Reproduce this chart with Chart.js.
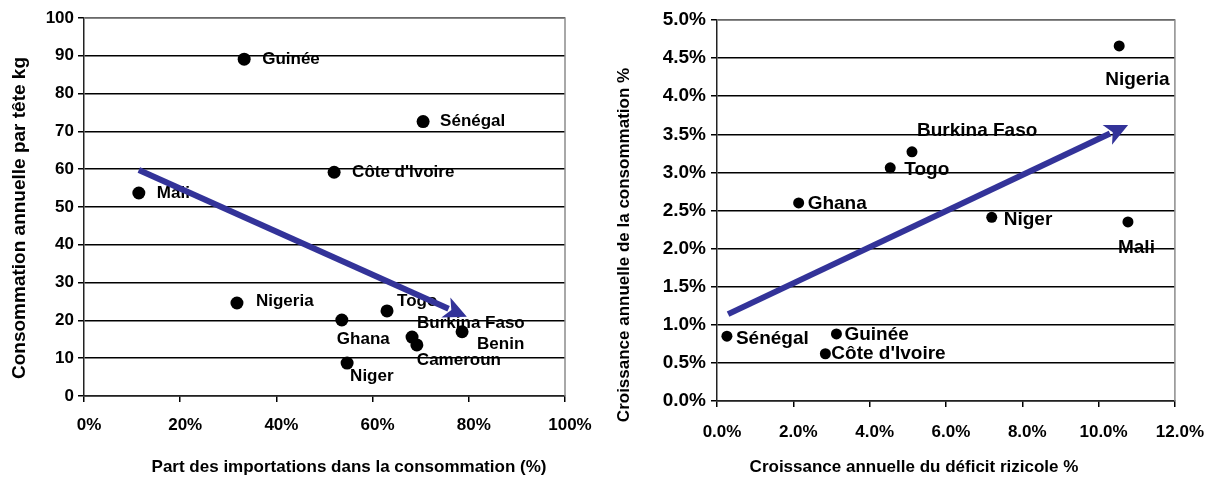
<!DOCTYPE html>
<html>
<head>
<meta charset="utf-8">
<script src="https://cdn.jsdelivr.net/npm/chart.js@4"></script>
<style>
  body { margin: 0; background: #fff; }
  .box { position: absolute; top: 0; height: 479px; }
  #left { left: 0; width: 600px; }
  #right { left: 600px; width: 614px; }
</style>
</head>
<body>
<div class="box" id="left"><canvas id="chartLeft"></canvas></div>
<div class="box" id="right"><canvas id="chartRight"></canvas></div>
<script>
// left chart : part des importations vs consommation par tete
const leftNames = ["Guinée", "Sénégal", "Côte d'Ivoire", "Mali", "Nigeria", "Togo", "Ghana", "Niger", "Burkina Faso", "Cameroun", "Benin"];
const leftImports = [33.3, 70.5, 52.0, 11.4, 31.8, 63.0, 53.6, 54.7, 68.2, 69.2, 78.6];
const leftConso = [89.1, 72.6, 59.2, 53.7, 24.6, 22.5, 20.1, 8.7, 15.6, 13.5, 17.0];
const leftTrendX = [11.4, 75.8];
const leftTrendY = [59.8, 23.1];
const leftXTicks = [0, 20, 40, 60, 80, 100];
const leftYTicks = [0, 10, 20, 30, 40, 50, 60, 70, 80, 90, 100];

// right chart : croissance du deficit vs croissance de la consommation
const rightNames = ["Nigeria", "Burkina Faso", "Togo", "Ghana", "Niger", "Mali", "Sénégal", "Guinée", "Côte d'Ivoire"];
const rightDeficit = [10.54, 5.11, 4.54, 2.14, 7.20, 10.77, 0.26, 3.13, 2.84];
const rightGrowth = [4.66, 3.27, 3.06, 2.60, 2.41, 2.35, 0.85, 0.88, 0.62];
const rightTrendX = [0.29, 10.30];
const rightTrendY = [1.14, 3.51];
const rightXTicks = [0, 2, 4, 6, 8, 10, 12];
const rightYTicks = [0, 0.5, 1, 1.5, 2, 2.5, 3, 3.5, 4, 4.5, 5];

// label offsets from the dot, in px
const leftLabelPos = [[18, 0], [17, 0], [18, 0], [18, 0], [19, -2], [10, -10], [-5, 19], [3, 13], [5, -14], [0, 15], [15, 13]];
const rightLabelPos = [[-14, 34], [5, -21], [14, 2], [9, 1], [12, 2], [-10, 26], [9, 3], [8, 1], [6, 0]];

const FONT = "'Liberation Sans', Arial, sans-serif";
const bold = size => ({ family: FONT, size: size, weight: 'bold' });

const framePlugin = {
    id: 'frame',
    beforeDatasetsDraw(chart) {
        const { ctx, chartArea: a } = chart;
        ctx.save();
        ctx.strokeStyle = '#8c8c8c';
        ctx.lineWidth = 1.5;
        ctx.beginPath();
        ctx.moveTo(a.left, a.top);
        ctx.lineTo(a.right, a.top);
        ctx.lineTo(a.right, a.bottom);
        ctx.stroke();
        ctx.restore();
    }
};

function labelPlugin(names, pos, size) {
    return {
        id: 'names',
        beforeDatasetsDraw(chart) {
            const ctx = chart.ctx;
            ctx.save();
            ctx.font = "bold " + size + "px " + FONT;
            ctx.fillStyle = '#000';
            ctx.textAlign = 'left';
            ctx.textBaseline = 'middle';
            chart.getDatasetMeta(0).data.forEach((pt, i) => {
                ctx.fillText(names[i], pt.x + pos[i][0], pt.y + pos[i][1]);
            });
            ctx.restore();
        }
    };
}

// axis titles, placed like the original (not centred on the plot)
function titlePlugin(t) {
    return {
        id: 'titles',
        afterDraw(chart) {
            const ctx = chart.ctx;
            ctx.save();
            ctx.fillStyle = '#000';
            ctx.textAlign = 'center';
            ctx.textBaseline = 'middle';
            ctx.font = "bold 17px " + FONT;
            ctx.fillText(t.x, t.xPos[0], t.xPos[1]);
            ctx.translate(t.yPos[0], t.yPos[1]);
            ctx.rotate(-Math.PI / 2);
            ctx.font = "bold " + t.ySize + "px " + FONT;
            ctx.fillText(t.y, 0, 0);
            ctx.restore();
        }
    };
}

const arrowHead = {
    id: 'arrowHead',
    afterDatasetsDraw(chart) {
        const pts = chart.getDatasetMeta(1).data;
        const a = pts[0], b = pts[pts.length - 1];
        const len = Math.hypot(b.x - a.x, b.y - a.y);
        const ux = (b.x - a.x) / len, uy = (b.y - a.y) / len;
        const nx = -uy, ny = ux;
        const ctx = chart.ctx;
        ctx.save();
        ctx.fillStyle = '#333399';
        ctx.beginPath();
        ctx.moveTo(b.x + 20 * ux, b.y + 20 * uy);
        ctx.lineTo(b.x - 3 * ux + 11 * nx, b.y - 3 * uy + 11 * ny);
        ctx.lineTo(b.x + 3 * ux, b.y + 3 * uy);
        ctx.lineTo(b.x - 3 * ux - 11 * nx, b.y - 3 * uy - 11 * ny);
        ctx.closePath();
        ctx.fill();
        ctx.restore();
    }
};

function makeChart(canvas, o) {
    return new Chart(canvas, {
        type: 'scatter',
        data: {
            datasets: [
                {
                    data: o.x.map((v, i) => ({ x: v, y: o.y[i] })),
                    backgroundColor: '#000',
                    borderWidth: 0,
                    pointRadius: o.r,
                    pointHoverRadius: o.r
                },
                {
                    type: 'line',
                    data: o.tx.map((v, i) => ({ x: v, y: o.ty[i] })),
                    borderColor: '#333399',
                    borderWidth: 6,
                    pointRadius: 0,
                    fill: false
                }
            ]
        },
        options: {
            responsive: true,
            maintainAspectRatio: false,
            animation: false,
            devicePixelRatio: 1,
            layout: { padding: { top: o.top, right: o.right, left: 0, bottom: 0 } },
            plugins: { legend: { display: false }, tooltip: { enabled: false } },
            scales: {
                x: {
                    type: 'linear',
                    min: o.xTicks[0],
                    max: o.xTicks[o.xTicks.length - 1],
                    afterBuildTicks: s => { s.ticks = o.xTicks.map(v => ({ value: v })); },
                    afterFit: s => { s.height = o.xh; },
                    ticks: { callback: o.xFmt, font: bold(17), color: '#000', padding: o.xPad, labelOffset: 5, maxRotation: 0, autoSkip: false },
                    grid: { drawOnChartArea: false, tickLength: 6, color: '#000', lineWidth: 1.5 },
                    border: { color: '#222', width: 1.5 }
                },
                y: {
                    type: 'linear',
                    min: o.yTicks[0],
                    max: o.yTicks[o.yTicks.length - 1],
                    afterBuildTicks: s => { s.ticks = o.yTicks.map(v => ({ value: v })); },
                    afterFit: s => { s.width = o.yw; },
                    ticks: { callback: o.yFmt, font: bold(o.yTickSize), color: '#000', padding: o.yPad, autoSkip: false },
                    grid: { tickLength: 6, color: '#000', lineWidth: 1.5 },
                    border: { color: '#222', width: 1.5 }
                }
            }
        },
        plugins: [framePlugin, labelPlugin(o.names, o.pos, o.labelSize), arrowHead, titlePlugin(o.titles)]
    });
}

makeChart(document.getElementById('chartLeft'), {
    x: leftImports, y: leftConso, tx: leftTrendX, ty: leftTrendY,
    names: leftNames, pos: leftLabelPos, r: 6.5, labelSize: 17,
    xTicks: leftXTicks, yTicks: leftYTicks, yTickSize: 17,
    xFmt: v => v + '%', yFmt: v => v,
    top: 18, right: 35, xh: 83, yw: 84, xPad: 13, yPad: 4,
    titles: {
        x: 'Part des importations dans la consommation (%)', xPos: [349, 467],
        y: 'Consommation annuelle par tête kg', yPos: [20, 218], ySize: 19
    }
});

makeChart(document.getElementById('chartRight'), {
    x: rightDeficit, y: rightGrowth, tx: rightTrendX, ty: rightTrendY,
    names: rightNames, pos: rightLabelPos, r: 5.5, labelSize: 19,
    xTicks: rightXTicks, yTicks: rightYTicks, yTickSize: 19,
    xFmt: v => v.toFixed(1) + '%', yFmt: v => v.toFixed(1) + '%',
    top: 20, right: 37, xh: 78, yw: 117, xPad: 15, yPad: 5,
    titles: {
        x: 'Croissance annuelle du déficit rizicole %', xPos: [314, 467],
        y: 'Croissance annuelle de la consommation %', yPos: [24, 245], ySize: 17
    }
});
</script>
</body>
</html>
